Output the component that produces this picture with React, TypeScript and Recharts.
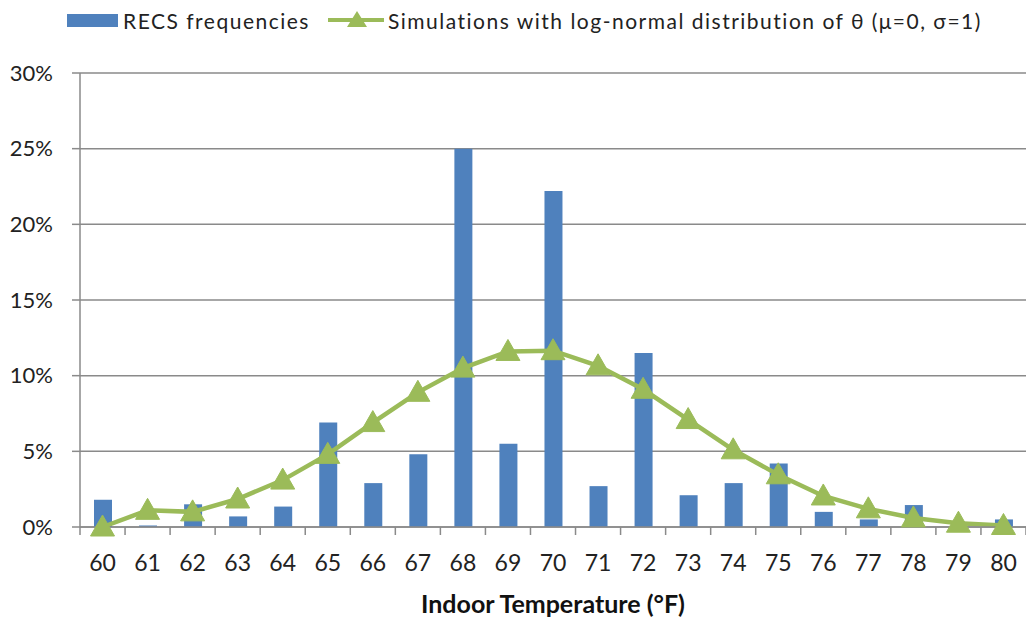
import React from "react";
import { ComposedChart, Bar, Line, XAxis, YAxis, CartesianGrid } from "recharts";

const temps = [60, 61, 62, 63, 64, 65, 66, 67, 68, 69, 70, 71, 72, 73, 74, 75, 76, 77, 78, 79, 80];
const recs = [1.8, 0.1, 1.5, 0.7, 1.35, 6.9, 2.9, 4.8, 25, 5.5, 22.2, 2.7, 11.5, 2.1, 2.9, 4.2, 1.0, 0.5, 1.45, 0.05, 0.5];
const sims = [0, 1.1, 1.0, 1.85, 3.1, 4.8, 6.9, 8.9, 10.5, 11.6, 11.65, 10.65, 9.1, 7.1, 5.1, 3.45, 2.05, 1.2, 0.6, 0.25, 0.1];
const yTicks = [0, 5, 10, 15, 20, 25, 30];

const data = temps.map((t, i) => ({ temp: t, recs: recs[i], sim: sims[i] }));

const FONT = "Lato, 'Open Sans', sans-serif";
const BLUE = "#4F81BD";
const GREEN = "#9BBB59";
const AXIS = "#8a8a8a";

const W = 1026;
const H = 621;
const PLOT_LEFT = 80;
const X_TICK_GAP = 28;
// category width, used for the tick marks between categories
const BAND = (W - PLOT_LEFT) / temps.length;

const Triangle = (props: any) => {
  const { cx, cy } = props;
  if (cx == null || cy == null) return null;
  return (
    <polygon
      points={`${cx},${cy - 12} ${cx - 12},${cy + 9} ${cx + 12},${cy + 9}`}
      fill={GREEN}
      stroke={GREEN}
    />
  );
};

// x tick: label plus tick marks on the category edges
const XTick = (props: any) => {
  const { x, y, payload, index } = props;
  const axisY = y - X_TICK_GAP;
  return (
    <g>
      <line x1={x - BAND / 2} x2={x - BAND / 2} y1={axisY} y2={axisY + 8} stroke={AXIS} strokeWidth={1.5} />
      {index === temps.length - 1 && (
        <line x1={x + BAND / 2} x2={x + BAND / 2} y1={axisY} y2={axisY + 8} stroke={AXIS} strokeWidth={1.5} />
      )}
      <text x={x} y={y} dy="0.71em" textAnchor="middle" fill="#222" fontSize={23} fontFamily={FONT}>
        {payload.value}
      </text>
    </g>
  );
};

const ChartLegend = () => (
  <div
    style={{
      position: "absolute",
      left: 67,
      top: 0,
      height: 40,
      display: "flex",
      alignItems: "center",
      fontFamily: FONT,
      fontSize: 21,
      letterSpacing: 1.5,
      color: "#222",
      whiteSpace: "nowrap",
    }}
  >
    <span style={{ width: 51, height: 13, background: BLUE, display: "inline-block", marginRight: 5 }} />
    <span>RECS frequencies</span>
    <svg width={56} height={24} style={{ marginLeft: 18, marginRight: 4 }}>
      <line x1={0} y1={12} x2={56} y2={12} stroke={GREEN} strokeWidth={4} />
      <polygon points="29,3 19,19 39,19" fill={GREEN} />
    </svg>
    <span>Simulations with log-normal distribution of θ (μ=0, σ=1)</span>
  </div>
);

const App = () => {
  return (
    <div style={{ position: "absolute", left: 0, top: 0, width: W, height: H, background: "#fff" }}>
      <ChartLegend />
      <ComposedChart width={W} height={H} data={data} margin={{ top: 73, right: 0, left: 0, bottom: 0 }}>
        <CartesianGrid vertical={false} stroke={AXIS} strokeWidth={1.5} />
        <XAxis
          dataKey="temp"
          height={94}
          tickLine={false}
          tickSize={0}
          tickMargin={X_TICK_GAP}
          axisLine={{ stroke: AXIS, strokeWidth: 1.5 }}
          tick={<XTick />}
          interval={0}
          label={{
            value: "Indoor Temperature (°F)",
            position: "insideBottom",
            offset: 8,
            style: { fill: "#111", fontSize: 25, fontWeight: 700, fontFamily: FONT },
          }}
        />
        <YAxis
          domain={[0, 30]}
          ticks={yTicks}
          width={PLOT_LEFT}
          tickFormatter={(v: number) => `${v}%`}
          tick={{ fill: "#222", fontSize: 22, fontFamily: FONT }}
          tickSize={8}
          tickMargin={19}
          tickLine={{ stroke: AXIS, strokeWidth: 1.5 }}
          axisLine={{ stroke: AXIS, strokeWidth: 1.5 }}
        />
        <Bar dataKey="recs" fill={BLUE} barSize={18} isAnimationActive={false} />
        <Line
          dataKey="sim"
          stroke={GREEN}
          strokeWidth={4.5}
          dot={<Triangle />}
          activeDot={false}
          isAnimationActive={false}
        />
      </ComposedChart>
    </div>
  );
};

export default App;
